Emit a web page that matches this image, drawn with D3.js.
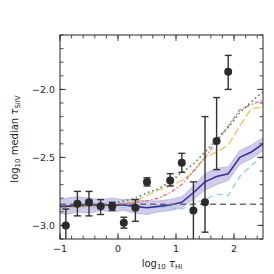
<!DOCTYPE html>
<html>
<head>
<meta charset="utf-8">
<title>tau SiIV vs tau HI</title>
<style>
  body { margin: 0; background: #fff; }
  text { font-family: "DejaVu Sans", sans-serif; fill: #262626; }
</style>
</head>
<body>
<div id="chart"></div>
<script src="https://cdn.jsdelivr.net/npm/d3@7/dist/d3.min.js"></script>
<script>

// model curves, sampled at these log10 tau_HI values
var xs = [-1.0, -0.9, -0.7, -0.5, -0.3, -0.1, 0.1, 0.3, 0.5, 0.7, 0.9, 1.1, 1.3, 1.5, 1.7, 1.9, 2.1, 2.3, 2.5];
var median = [-2.86, -2.86, -2.85, -2.85, -2.85, -2.85, -2.85, -2.86, -2.87, -2.86, -2.85, -2.83, -2.76, -2.68, -2.64, -2.62, -2.50, -2.46, -2.40];
var bandLo = [-2.91, -2.92, -2.90, -2.91, -2.89, -2.90, -2.89, -2.91, -2.92, -2.90, -2.89, -2.87, -2.81, -2.74, -2.70, -2.67, -2.55, -2.51, -2.45];
var bandHi = [-2.81, -2.80, -2.79, -2.80, -2.81, -2.80, -2.81, -2.81, -2.82, -2.82, -2.81, -2.79, -2.71, -2.62, -2.58, -2.57, -2.45, -2.41, -2.355];
var green = [-2.86, -2.86, -2.86, -2.85, -2.85, -2.84, -2.82, -2.80, -2.76, -2.73, -2.68, -2.61, -2.55, -2.46, -2.37, -2.28, -2.17, -2.09, -2.02];
var pink = [-2.86, -2.86, -2.86, -2.86, -2.85, -2.85, -2.84, -2.83, -2.82, -2.80, -2.76, -2.70, -2.60, -2.50, -2.38, -2.27, -2.15, -2.11, -2.08];
var yellow = [-2.87, -2.87, -2.87, -2.86, -2.86, -2.86, -2.85, -2.82, -2.78, -2.74, -2.71, -2.67, -2.61, -2.50, -2.46, -2.41, -2.27, -2.14, -2.13];
var lightblue = [-2.87, -2.87, -2.87, -2.87, -2.87, -2.87, -2.87, -2.87, -2.87, -2.87, -2.87, -2.88, -2.84, -2.81, -2.77, -2.78, -2.64, -2.56, -2.49];

// observed points with asymmetric error bars
var obsX = [-0.9, -0.7, -0.5, -0.3, -0.1, 0.1, 0.3, 0.5, 0.9, 1.1, 1.3, 1.5, 1.7, 1.9];
var obsY = [-3.00, -2.84, -2.83, -2.86, -2.86, -2.98, -2.87, -2.68, -2.67, -2.54, -2.89, -2.83, -2.38, -1.87];
var obsLo = [-3.12, -2.93, -2.93, -2.92, -2.89, -3.02, -2.97, -2.71, -2.71, -2.61, -3.15, -3.05, -2.59, -2.00];
var obsHi = [-2.88, -2.75, -2.75, -2.81, -2.83, -2.94, -2.81, -2.65, -2.62, -2.47, -2.68, -2.20, -2.06, -1.75];

var floorLevel = -2.845;

var xTicks = [-1, 0, 1, 2];
var yTicks = [-3.0, -2.5, -2.0];

var W = 274, H = 274;
var mL = 60, mR = 263, mT = 35, mB = 239;

var x = d3.scaleLinear().domain([-1, 2.5]).range([mL, mR]);
var y = d3.scaleLinear().domain([-3.1, -1.6]).range([mB, mT]);

var svg = d3.select("#chart").append("svg")
    .attr("width", W).attr("height", H);

svg.append("clipPath").attr("id", "clip")
  .append("rect")
    .attr("x", mL).attr("y", mT)
    .attr("width", mR - mL).attr("height", mB - mT);

var plot = svg.append("g").attr("clip-path", "url(#clip)");

var idx = d3.range(xs.length);

// shaded band
plot.append("path")
    .datum(idx)
    .attr("d", d3.area()
        .x(function(i) { return x(xs[i]); })
        .y0(function(i) { return y(bandLo[i]); })
        .y1(function(i) { return y(bandHi[i]); }))
    .attr("fill", "#cfcbeb")
    .attr("stroke", "#b3aedd")
    .attr("stroke-width", 0.8);

function curve(vals, color, dash, width) {
  plot.append("path")
      .datum(idx)
      .attr("d", d3.line()
          .x(function(i) { return x(xs[i]); })
          .y(function(i) { return y(vals[i]); }))
      .attr("fill", "none")
      .attr("stroke", color)
      .attr("stroke-width", width)
      .attr("stroke-dasharray", dash);
}

curve(lightblue, "#8ccff0", "6,4", 1.3);
curve(yellow, "#ecc45f", "8,3", 1.3);
curve(pink, "#e36f7f", "4,2,1.5,2", 1.3);
curve(green, "#2e9146", "1.5,3", 1.6);
curve(median, "#3b2f9c", null, 1.6);

// horizontal reference level
plot.append("line")
    .attr("x1", mL).attr("x2", mR)
    .attr("y1", y(floorLevel)).attr("y2", y(floorLevel))
    .attr("stroke", "#6e6e6e")
    .attr("stroke-width", 1.6)
    .attr("stroke-dasharray", "6,4");

// error bars + points
var pts = plot.selectAll("g.pt").data(d3.range(obsX.length)).enter()
  .append("g").attr("class", "pt");

pts.append("line")
    .attr("x1", function(i) { return x(obsX[i]); })
    .attr("x2", function(i) { return x(obsX[i]); })
    .attr("y1", function(i) { return y(obsLo[i]); })
    .attr("y2", function(i) { return y(obsHi[i]); })
    .attr("stroke", "#333").attr("stroke-width", 1.4);

[obsLo, obsHi].forEach(function(arr) {
  pts.append("line")
      .attr("x1", function(i) { return x(obsX[i]) - 3.5; })
      .attr("x2", function(i) { return x(obsX[i]) + 3.5; })
      .attr("y1", function(i) { return y(arr[i]); })
      .attr("y2", function(i) { return y(arr[i]); })
      .attr("stroke", "#333").attr("stroke-width", 1.4);
});

pts.append("circle")
    .attr("cx", function(i) { return x(obsX[i]); })
    .attr("cy", function(i) { return y(obsY[i]); })
    .attr("r", 4)
    .attr("fill", "#2b2b2b");

// frame
svg.append("rect")
    .attr("x", mL).attr("y", mT)
    .attr("width", mR - mL).attr("height", mB - mT)
    .attr("fill", "none").attr("stroke", "#262626").attr("stroke-width", 1);

// ticks, inward on all sides
var xMinor = d3.range(-1, 2.51, 0.2);
var yMinor = d3.range(-3.1, -1.59, 0.1);
var tk = svg.append("g").attr("stroke", "#262626").attr("stroke-width", 0.8);

function xt(vals, len) {
  vals.forEach(function(v) {
    var px = x(v);
    tk.append("line").attr("x1", px).attr("x2", px).attr("y1", mB).attr("y2", mB - len);
    tk.append("line").attr("x1", px).attr("x2", px).attr("y1", mT).attr("y2", mT + len);
  });
}
function yt(vals, len) {
  vals.forEach(function(v) {
    var py = y(v);
    tk.append("line").attr("y1", py).attr("y2", py).attr("x1", mL).attr("x2", mL + len);
    tk.append("line").attr("y1", py).attr("y2", py).attr("x1", mR).attr("x2", mR - len);
  });
}
xt(xMinor, 3.5);
xt(xTicks, 6);
yt(yMinor, 3.5);
yt(yTicks, 6);

var fmtX = function(v) { return (v < 0 ? "\u2212" : "") + Math.abs(v); };
var fmtY = function(v) { return "\u2212" + d3.format(".1f")(Math.abs(v)); };

svg.selectAll("text.xt").data(xTicks).enter().append("text")
    .attr("class", "xt")
    .attr("x", function(d) { return x(d); })
    .attr("y", 252)
    .attr("text-anchor", "middle")
    .attr("font-size", 9.5)
    .text(fmtX);

svg.selectAll("text.yt").data(yTicks).enter().append("text")
    .attr("class", "yt")
    .attr("x", 55)
    .attr("y", function(d) { return y(d) + 3.5; })
    .attr("text-anchor", "end")
    .attr("font-size", 9.5)
    .text(fmtY);

// axis labels
var xl = svg.append("text")
    .attr("x", 162).attr("y", 267)
    .attr("text-anchor", "middle")
    .attr("font-size", 10);
xl.append("tspan").text("log");
xl.append("tspan").attr("font-size", 7).attr("dy", 2).text("10");
xl.append("tspan").attr("dy", -2).text(" ");
xl.append("tspan").attr("font-style", "italic").text("\u03c4");
xl.append("tspan").attr("font-size", 7).attr("dy", 2).text("HI");

var yl = svg.append("text")
    .attr("transform", "translate(18,139) rotate(-90)")
    .attr("text-anchor", "middle")
    .attr("font-size", 10);
yl.append("tspan").text("log");
yl.append("tspan").attr("font-size", 7).attr("dy", 2).text("10");
yl.append("tspan").attr("dy", -2).text(" median ");
yl.append("tspan").attr("font-style", "italic").text("\u03c4");
yl.append("tspan").attr("font-size", 7).attr("dy", 2).text("SiIV");

</script>
</body>
</html>
